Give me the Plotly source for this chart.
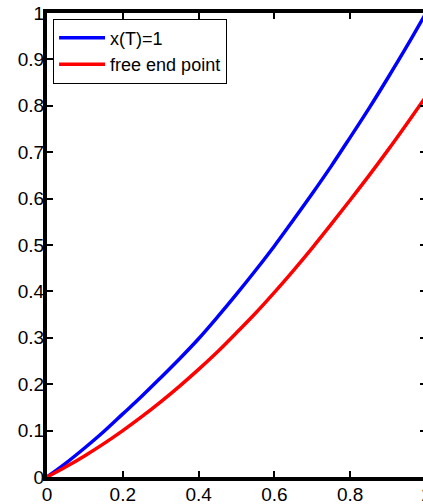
import plotly.graph_objects as go

# Data
t_vals = [0.0, 0.05, 0.1, 0.15, 0.2, 0.25, 0.3, 0.35, 0.4, 0.45, 0.5,
          0.55, 0.6, 0.65, 0.7, 0.75, 0.8, 0.85, 0.9, 0.95, 1.0]
x_fixed_end = [0.0, 0.030, 0.063, 0.098, 0.136, 0.174, 0.214, 0.255, 0.298, 0.345, 0.394,
               0.445, 0.498, 0.554, 0.611, 0.670, 0.732, 0.795, 0.861, 0.929, 1.0]
x_free_end = [0.0, 0.022, 0.046, 0.072, 0.100, 0.130, 0.162, 0.196, 0.232, 0.270, 0.311,
              0.353, 0.398, 0.445, 0.494, 0.545, 0.597, 0.650, 0.705, 0.762, 0.82]

series_names = ["x(T)=1", "free end point"]
series_colors = ["#0000FF", "#FF0000"]

x_ticks = [0, 0.2, 0.4, 0.6, 0.8, 1.0]
x_tick_labels = ["0", "0.2", "0.4", "0.6", "0.8", "1"]
y_ticks = [0, 0.1, 0.2, 0.3, 0.4, 0.5, 0.6, 0.7, 0.8, 0.9, 1.0]
y_tick_labels = ["0", "0.1", "0.2", "0.3", "0.4", "0.5", "0.6", "0.7", "0.8", "0.9", "1"]

FONT = "Liberation Sans, Arial, Helvetica, sans-serif"

fig = go.Figure()
for ys, name, color in zip([x_fixed_end, x_free_end], series_names, series_colors):
    fig.add_trace(go.Scatter(x=t_vals, y=ys, mode="lines", name=name,
                             line=dict(color=color, width=3.5, shape="spline", smoothing=1.0)))

axis_common = dict(ticks="inside", ticklen=6, tickwidth=2, tickcolor="black",
                   showline=True, linewidth=4, linecolor="black", mirror="ticks",
                   showgrid=False, zeroline=False, automargin=False,
                   tickfont=dict(family=FONT, size=19, color="black"))

fig.update_layout(
    template="none",
    width=436, height=504,
    margin=dict(l=47, r=10, t=13, b=27, autoexpand=False),
    paper_bgcolor="white", plot_bgcolor="white",
    font=dict(family=FONT, size=19, color="black"),
    showlegend=True,
    legend=dict(x=0.016, y=0.988, xanchor="left", yanchor="top",
                bgcolor="white", bordercolor="black", borderwidth=1,
                font=dict(family=FONT, size=18, color="black"),
                tracegroupgap=0, itemwidth=46),
    xaxis=dict(range=[0, 1], tickvals=x_ticks, ticktext=x_tick_labels,
               ticklabelstandoff=-3, **axis_common),
    yaxis=dict(range=[0, 1], tickvals=y_ticks, ticktext=y_tick_labels,
               ticklabelstandoff=-5, **axis_common),
)

fig.write_html("out.html",
               config={"displayModeBar": False},
               post_script="document.body.style.margin='0';document.body.style.overflow='hidden';"
                           "document.documentElement.style.overflow='hidden';")
